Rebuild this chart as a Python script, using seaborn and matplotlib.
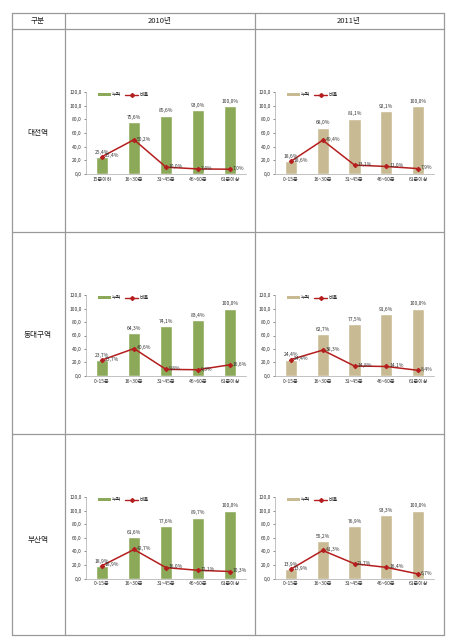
import numpy as np
import pandas as pd
import matplotlib
matplotlib.use("Agg")
import matplotlib.pyplot as plt
import seaborn as sns
from matplotlib.lines import Line2D
from matplotlib.patches import Patch
from matplotlib.ticker import FuncFormatter, FixedLocator

sns.set_theme(style="white")
plt.rcParams['font.family'] = ['Noto Sans CJK KR', 'DejaVu Sans']

# ---- data ----
years = ["2010년", "2011년"]
stations = ["대전역", "동대구역", "부산역"]
cats_2010_daejeon = ["15분이하", "16~30분", "31~45분", "46~60분", "61분이상"]
cats_std = ["0~15분", "16~30분", "31~45분", "46~60분", "61분이상"]

cum_2010_daejeon = [25.4, 75.6, 85.6, 93.0, 100.0]
rat_2010_daejeon = [25.4, 50.2, 10.0, 7.4, 7.0]
cum_2011_daejeon = [18.6, 68.0, 81.1, 92.1, 100.0]
rat_2011_daejeon = [18.6, 49.4, 13.1, 11.0, 7.9]

cum_2010_dongdaegu = [23.7, 64.3, 74.1, 83.4, 100.0]
rat_2010_dongdaegu = [23.7, 40.6, 9.8, 9.3, 16.6]
cum_2011_dongdaegu = [24.4, 62.7, 77.5, 91.6, 100.0]
rat_2011_dongdaegu = [24.4, 38.3, 14.8, 14.1, 8.4]

cum_2010_busan = [18.9, 61.6, 77.6, 89.7, 100.0]
rat_2010_busan = [18.9, 42.7, 16.0, 12.1, 10.3]
cum_2011_busan = [13.9, 55.2, 76.9, 93.3, 100.0]
rat_2011_busan = [13.9, 41.3, 21.7, 16.4, 6.7]

legend_labels = ["누적", "비율"]
y_ticks = [0, 20, 40, 60, 80, 100, 120]

panels = [
    (0, 0, cats_2010_daejeon, cum_2010_daejeon, rat_2010_daejeon),
    (0, 1, cats_std, cum_2011_daejeon, rat_2011_daejeon),
    (1, 0, cats_std, cum_2010_dongdaegu, rat_2010_dongdaegu),
    (1, 1, cats_std, cum_2011_dongdaegu, rat_2011_dongdaegu),
    (2, 0, cats_std, cum_2010_busan, rat_2010_busan),
    (2, 1, cats_std, cum_2011_busan, rat_2011_busan),
]

W, H = 451, 642
fig = plt.figure(figsize=(W / 100, H / 100), dpi=100)
fig.patch.set_facecolor("white")

bar_colors = ["#8CA859", "#C8BB93"]
line_color = "#B41E1E"
text_color = "#333333"
grid_color = "#999999"

# axes geometry in pixels
col_x = [(86, 160), (275, 159)]
row_y = [(92, 174), (295, 376), (497, 578.5)]

def fx(px):
    return px / W

def fy(py):
    return 1 - py / H

def fmt(v):
    return f"{v:.1f}".replace(".", ",")

for r, c, cats, cum, rat in panels:
    x0, w = col_x[c]
    ytop, ybot = row_y[r]
    ax = fig.add_axes([fx(x0), fy(ybot), w / W, (ybot - ytop) / H])
    df = pd.DataFrame({"cat": cats, "cum": cum, "rat": rat})
    sns.barplot(data=df, x="cat", y="cum", color=bar_colors[c], width=0.38,
                saturation=1, ax=ax, errorbar=None)
    sns.pointplot(data=df, x="cat", y="rat", color=line_color, markers="D",
                  markersize=2.2, linewidth=1.1, ax=ax, errorbar=None)
    ax.set_ylim(0, 120)
    ax.set_xlim(-0.5, 4.5)
    ax.set_xlabel("")
    ax.set_ylabel("")
    ax.yaxis.set_major_locator(FixedLocator(y_ticks))
    ax.yaxis.set_major_formatter(FuncFormatter(lambda v, p: fmt(v)))
    ax.tick_params(axis="y", labelsize=3.6, colors=text_color, length=1.5,
                   width=0.4, pad=1.5, left=True)
    ax.tick_params(axis="x", labelsize=3.6, colors=text_color, length=0, pad=2)
    for s in ["top", "right"]:
        ax.spines[s].set_visible(False)
    for s in ["left", "bottom"]:
        ax.spines[s].set_color("#AAAAAA")
        ax.spines[s].set_linewidth(0.5)
    ax.set_facecolor("white")
    ax.bar_label(ax.containers[0], labels=[fmt(v) + "%" for v in cum],
                 padding=1.5, fontsize=3.6, color=text_color)
    for i, v in enumerate(rat):
        ax.annotate(fmt(v) + "%", (i, v), xytext=(2, 0.5), textcoords="offset points",
                    ha="left", va="center", fontsize=3.6, color=text_color)
    handles = [Patch(facecolor=bar_colors[c], edgecolor="none"),
               Line2D([0], [0], color=line_color, marker="D", markersize=2, lw=1)]
    ax.legend(handles, legend_labels, loc="upper left", bbox_to_anchor=(0.06, 1.02),
              ncol=2, fontsize=3.6, frameon=False, handlelength=2.6, handleheight=0.5,
              columnspacing=0.8, handletextpad=0.3, borderaxespad=0)

# ---- table frame ----
tbl_left, tbl_c1, tbl_c2, tbl_right = 11.5, 64.5, 254.5, 443.5
tbl_top, tbl_hdr, tbl_r1, tbl_r2, tbl_bot = 12.5, 28.5, 231.5, 433.5, 634.5

def hline(y, x1, x2):
    fig.add_artist(Line2D([fx(x1), fx(x2)], [fy(y), fy(y)], color=grid_color, lw=0.9))

def vline(x, y1, y2):
    fig.add_artist(Line2D([fx(x), fx(x)], [fy(y1), fy(y2)], color=grid_color, lw=0.9))

for y in [tbl_top, tbl_hdr, tbl_r1, tbl_r2, tbl_bot]:
    hline(y, tbl_left, tbl_right)
for x in [tbl_left, tbl_c1, tbl_c2, tbl_right]:
    vline(x, tbl_top, tbl_bot)

fig.text(fx((tbl_left + tbl_c1) / 2), fy(20.5), "구분", ha="center", va="center",
         fontsize=5.5, color="#222222")
fig.text(fx((tbl_c1 + tbl_c2) / 2), fy(20.5), years[0], ha="center", va="center",
         fontsize=5.5, color="#222222")
fig.text(fx((tbl_c2 + tbl_right) / 2), fy(20.5), years[1], ha="center", va="center",
         fontsize=5.5, color="#222222")
for name, yc in zip(stations, [133, 335, 540]):
    fig.text(fx((tbl_left + tbl_c1) / 2), fy(yc), name, ha="center", va="center",
             fontsize=5.5, color="#222222")

fig.savefig("out.png", dpi=100, facecolor="white")
